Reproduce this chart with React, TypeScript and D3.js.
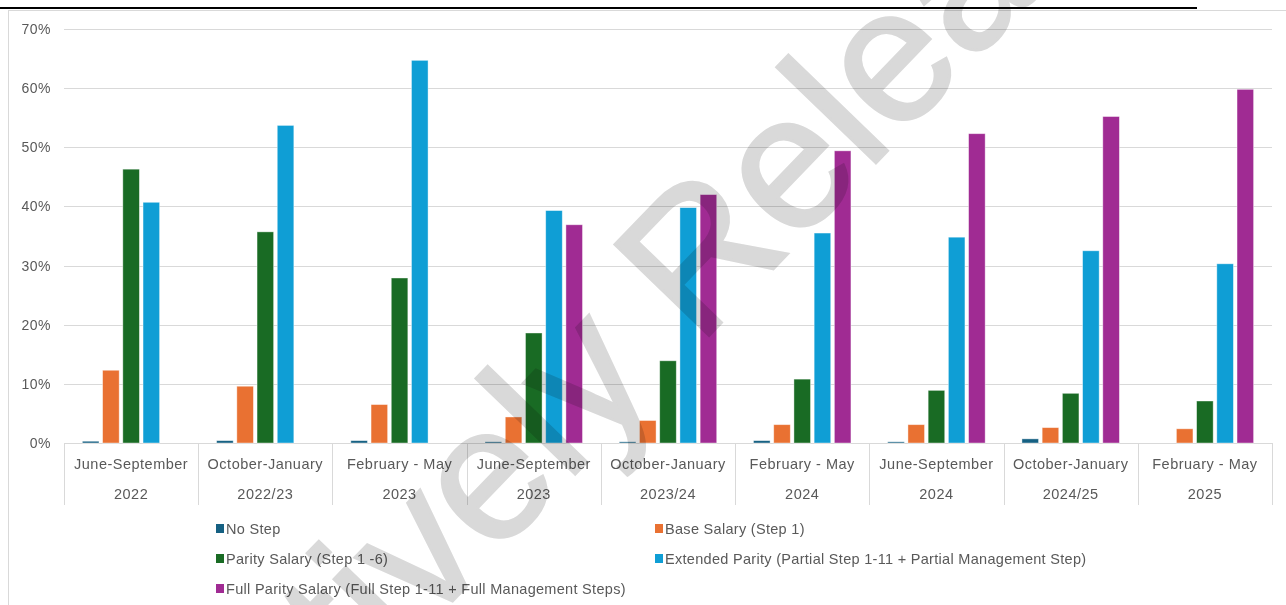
import React from "react";
import * as d3 from "d3";

const periods = [
  "June-September", "October-January", "February - May",
  "June-September", "October-January", "February - May",
  "June-September", "October-January", "February - May",
];
const years = ["2022", "2022/23", "2023", "2023", "2023/24", "2024", "2024", "2024/25", "2025"];

const seriesNames = [
  "No Step",
  "Base Salary (Step 1)",
  "Parity Salary (Step 1 -6)",
  "Extended Parity (Partial Step 1-11 + Partial Management Step)",
  "Full Parity Salary (Full Step 1-11 + Full Management Steps)",
];
const seriesColors = ["#156082", "#E97132", "#196B24", "#0F9ED5", "#A02B93"];

const noStep = [0.3, 0.4, 0.4, 0.2, 0.2, 0.4, 0.2, 0.7, 0.0];
const baseSalary = [12.3, 9.6, 6.5, 4.4, 3.8, 3.1, 3.1, 2.6, 2.4];
const paritySalary = [46.3, 35.7, 27.9, 18.6, 13.9, 10.8, 8.9, 8.4, 7.1];
const extendedParity = [40.7, 53.7, 64.7, 39.3, 39.8, 35.5, 34.8, 32.5, 30.3];
const fullParity = [0, 0, 0, 36.9, 42.0, 49.4, 52.3, 55.2, 59.8];
const seriesValues = [noStep, baseSalary, paritySalary, extendedParity, fullParity];

const yTicks = [0, 10, 20, 30, 40, 50, 60, 70];

export default function App() {
  const W = 1286, H = 605;
  const left = 64, right = 1272, top = 29, bottom = 443;
  const x0 = d3.scaleBand<number>().domain(d3.range(periods.length)).range([left, right]).paddingInner(0).paddingOuter(0);
  const bw = x0.bandwidth();
  const x1 = d3.scaleBand<number>().domain(d3.range(seriesNames.length)).range([0, bw]).paddingInner(0.18).paddingOuter(0.91);
  const y = d3.scaleLinear().domain([0, 70]).range([bottom, top]);
  const axisFont = "'Liberation Sans', Arial, sans-serif";
  const grey = "#595959";
  const gridC = "#d9d9d9";

  const legendItems = [
    { i: 0, x: 216, y: 529 },
    { i: 1, x: 655, y: 529 },
    { i: 2, x: 216, y: 559 },
    { i: 3, x: 655, y: 559 },
    { i: 4, x: 216, y: 589 },
  ];

  return (
    <svg width={W} height={H} style={{ position: "absolute", left: 0, top: 0, background: "#fff" }}>
      <rect x={0} y={0} width={W} height={H} fill="#fff" />
      {/* chart border */}
      <rect x={8.5} y={10.5} width={W} height={H} fill="none" stroke={gridC} strokeWidth={1} />
      {/* title underline */}
      <line x1={0} x2={1197} y1={8} y2={8} stroke="#000" strokeWidth={2} />
      {/* gridlines */}
      {yTicks.map((t) => (
        <g key={t}>
          <line x1={left} x2={right} y1={Math.round(y(t)) + 0.5} y2={Math.round(y(t)) + 0.5} stroke={gridC} strokeWidth={1} />
          <text x={51} y={y(t) + 5} textAnchor="end" fontFamily={axisFont} fontSize={14} letterSpacing={0.5} fill={grey}>{t}%</text>
        </g>
      ))}
      {/* bars */}
      {periods.map((_, ci) => (
        <g key={ci} transform={`translate(${x0(ci)},0)`}>
          {seriesValues.map((vals, si) => (
            vals[ci] > 0 ? (
              <rect key={si} x={x1(si)} y={y(vals[ci])} width={x1.bandwidth()} height={y(0) - y(vals[ci])}
                fill={seriesColors[si]} stroke="#ffffff" strokeOpacity={0.5} strokeWidth={0.8} />
            ) : null
          ))}
        </g>
      ))}
      {/* category box lines */}
      {d3.range(periods.length + 1).map((i) => {
        const xx = Math.round(left + i * bw) + 0.5;
        return <line key={i} x1={xx} x2={xx} y1={bottom} y2={505} stroke={gridC} strokeWidth={1} />;
      })}
      {periods.map((p, ci) => (
        <g key={ci}>
          <text x={x0(ci)! + bw / 2} y={469} textAnchor="middle" fontFamily={axisFont} fontSize={14.5} letterSpacing={0.5} fill={grey}>{p}</text>
          <text x={x0(ci)! + bw / 2} y={499} textAnchor="middle" fontFamily={axisFont} fontSize={14.5} letterSpacing={0.5} fill={grey}>{years[ci]}</text>
        </g>
      ))}
      {/* legend */}
      {legendItems.map(({ i, x, y: ly }) => (
        <g key={i}>
          <rect x={x} y={ly - 5} width={8} height={9} fill={seriesColors[i]} />
          <text x={x + 10} y={ly + 5} fontFamily={axisFont} fontSize={14.5} letterSpacing={0.3} fill={grey}>{seriesNames[i]}</text>
        </g>
      ))}
      {/* watermark */}
      <text x={0} y={0} transform="translate(16,1053) rotate(-46)" textAnchor="start"
        fontFamily={axisFont} fontSize={190} fill="#d9d9d9" stroke="#d9d9d9" strokeWidth={3}
        style={{ mixBlendMode: "multiply" }}>Proactively Released</text>
    </svg>
  );
}
